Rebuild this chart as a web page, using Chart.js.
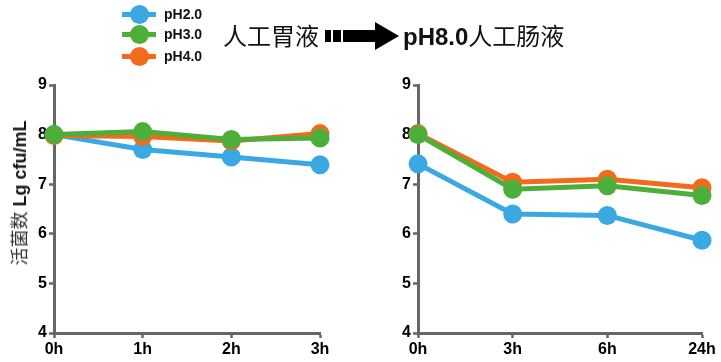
<!DOCTYPE html>
<html><head><meta charset="utf-8">
<script src="https://cdn.jsdelivr.net/npm/chart.js@4"></script>
<style>
html,body{margin:0;padding:0;background:#fff;}
#wrap{position:relative;width:721px;height:362px;overflow:hidden;font-family:"Liberation Sans",Arial,sans-serif;}
.cv{position:absolute;}
.leg{position:absolute;left:122px;height:20px;}
.leg .ln{position:absolute;left:0;top:8px;width:34px;height:5px;}
.leg .dot{position:absolute;left:8px;top:1px;width:19px;height:19px;border-radius:50%;}
.leg .tx{position:absolute;left:42px;top:2px;font-weight:bold;font-size:14px;color:#111;white-space:nowrap;}
#ytitle{position:absolute;left:18px;top:193px;transform:translate(-50%,-50%) rotate(-90deg);white-space:nowrap;font-size:18px;color:#111;}
#title{position:absolute;left:223px;top:18px;font-size:24px;color:#111;white-space:nowrap;font-family:"Noto Sans CJK SC","Liberation Sans",sans-serif;line-height:34px;}
</style></head>
<body><div id="wrap">
<div class="cv" style="left:0;top:60px;width:340px;height:302px;"><canvas id="c1" width="340" height="302"></canvas></div>
<div class="cv" style="left:360px;top:60px;width:361px;height:302px;"><canvas id="c2" width="361" height="302"></canvas></div>
<div id="legend"></div>
<div id="ytitle"><span style="font-family:'Noto Sans CJK SC';color:#333;">活菌数</span> <b style="font-family:'Liberation Sans',Arial;">Lg cfu/mL</b></div>
<div id="title"><span>人工胃液</span><svg width="76" height="28" viewBox="0 0 76 28" style="vertical-align:-5px;margin:0 2px 0 6px;"><rect x="0" y="8" width="6" height="12" fill="#000"/><rect x="8" y="8" width="8" height="12" fill="#000"/><rect x="18" y="8" width="34" height="12" fill="#000"/><polygon points="50,0 74,14 50,28" fill="#000"/></svg><b style="font-family:'Liberation Sans',Arial;">pH8.0</b><span>人工肠液</span></div>
</div>
<script>
const seriesNames = ["pH2.0", "pH3.0", "pH4.0"];
const seriesColors = ["#3AA8E2", "#4CAF3A", "#F26A1C"];
const gastricLabels = ["0h", "1h", "2h", "3h"];
const intestinalLabels = ["0h", "3h", "6h", "24h"];
const yTicks = [4, 5, 6, 7, 8, 9];
const gastricPH2 = [8.00, 7.70, 7.55, 7.39];
const gastricPH3 = [8.00, 8.06, 7.90, 7.93];
const gastricPH4 = [7.98, 7.96, 7.87, 8.02];
const intestinalPH2 = [7.41, 6.40, 6.37, 5.87];
const intestinalPH3 = [8.00, 6.90, 6.97, 6.77];
const intestinalPH4 = [8.02, 7.04, 7.10, 6.93];

// legend (HTML)
const legEl = document.getElementById('legend');
const legTops = [4, 24, 46];
seriesNames.forEach((n, i) => {
  const d = document.createElement('div');
  d.className = 'leg';
  d.style.top = legTops[i] + 'px';
  d.innerHTML = '<div class="ln" style="background:' + seriesColors[i] + '"></div><div class="dot" style="background:' + seriesColors[i] + '"></div><div class="tx">' + n + '</div>';
  legEl.appendChild(d);
});

function ds(name, data, color, order) {
  return {label: name, data: data, borderColor: color, backgroundColor: color,
    borderWidth: 5, pointRadius: 9.5, pointHoverRadius: 9.5, pointBorderWidth: 0,
    pointBackgroundColor: color, clip: false, order: order, tension: 0};
}

function make(id, labels, d2, d3, d4, yWidth, padRight) {
  new Chart(document.getElementById(id), {
    type: 'line',
    data: {labels: labels, datasets: [
      ds(seriesNames[0], d2, seriesColors[0], 3),
      ds(seriesNames[2], d4, seriesColors[2], 2),
      ds(seriesNames[1], d3, seriesColors[1], 1)
    ]},
    options: {
      responsive: false, animation: false,
      events: [],
      layout: {padding: {left: 0, top: 25, right: padRight, bottom: 0}},
      plugins: {legend: {display: false}, tooltip: {enabled: false}},
      scales: {
        x: {
          offset: false,
          grid: {display: true, drawOnChartArea: false, drawTicks: true, tickLength: 5, tickColor: '#666', tickWidth: 2.5},
          border: {display: true, color: '#666', width: 3},
          ticks: {color: '#000', font: {family: "'Liberation Sans', Arial", size: 16, weight: 'bold'}, padding: 2, maxRotation: 0, autoSkip: false},
          afterFit: s => { s.height = 29; }
        },
        y: {
          min: 4, max: 9,
          afterBuildTicks: s => { s.ticks = yTicks.map(v => ({value: v})); },
          grid: {display: true, drawOnChartArea: false, drawTicks: true, tickLength: 5, tickColor: '#666', tickWidth: 2.5},
          border: {display: true, color: '#666', width: 3},
          ticks: {color: '#000', font: {family: "'Liberation Sans', Arial", size: 16, weight: 'bold'}, padding: 2},
          afterFit: s => { s.width = yWidth; }
        }
      }
    }
  });
}
make('c1', gastricLabels, gastricPH2, gastricPH3, gastricPH4, 54, 20);
make('c2', intestinalLabels, intestinalPH2, intestinalPH3, intestinalPH4, 58, 19);
</script>
</body></html>
